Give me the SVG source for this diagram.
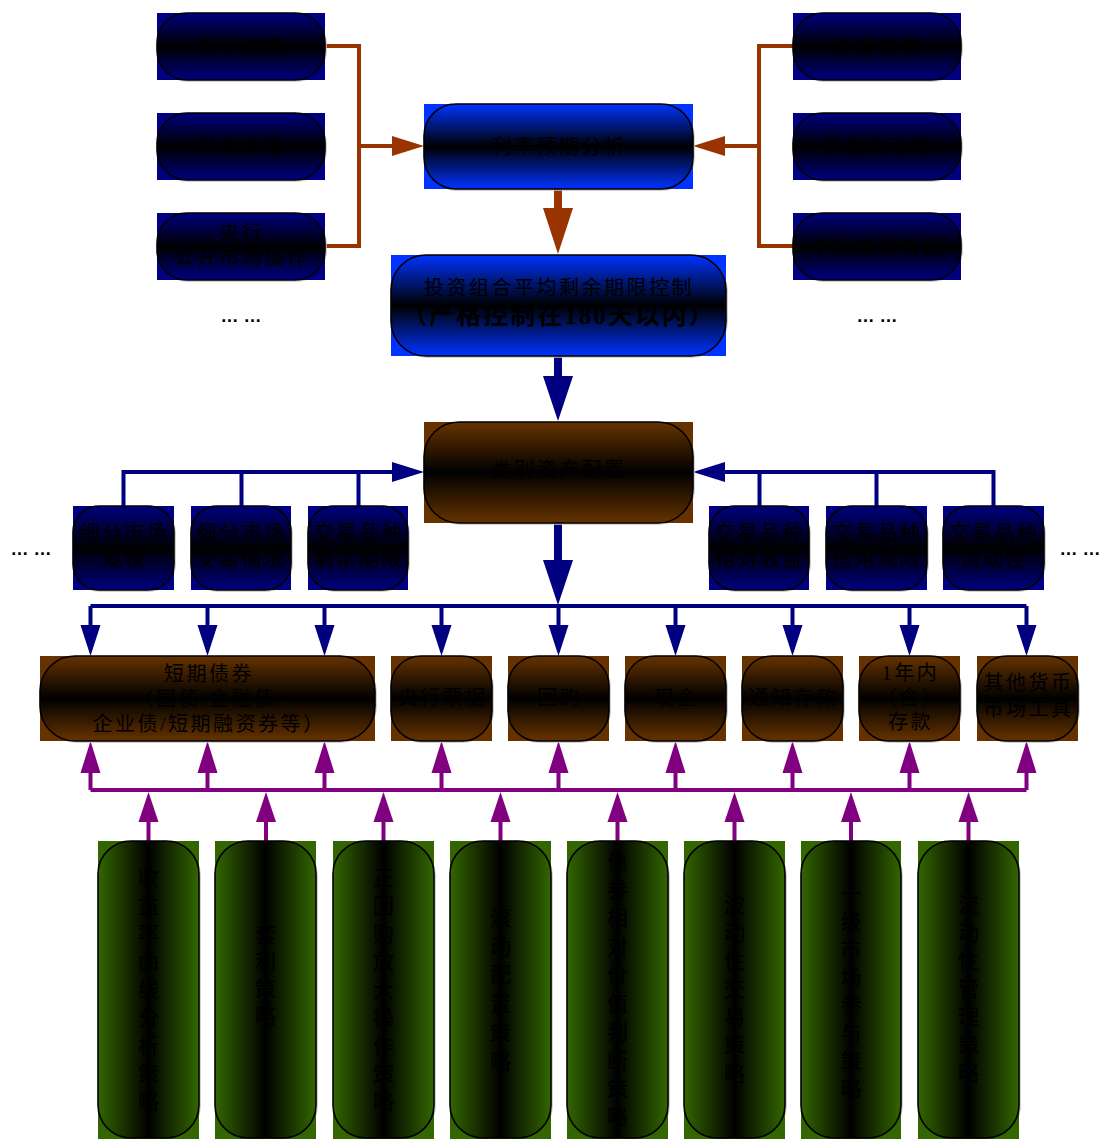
<svg xmlns="http://www.w3.org/2000/svg" width="1103" height="1139" viewBox="0 0 1103 1139">
<style>
.t{font-family:"Liberation Serif","Noto Sans CJK SC",serif;font-size:20px;letter-spacing:2.5px;fill:#000;text-anchor:middle;dominant-baseline:central}
.v{font-family:"Liberation Serif","Noto Sans CJK SC",serif;font-size:21px;fill:#000;text-anchor:middle;dominant-baseline:central}
.b{font-size:25px;font-weight:bold;letter-spacing:2px}
.dots{font-family:"Liberation Sans",sans-serif;font-size:18px;font-weight:bold;fill:#000;text-anchor:middle}
.sh{fill:none;stroke:#c4c4c4;stroke-width:1.5}
.ol{stroke:#000;stroke-width:1.6}
.nv{fill:#000080}
.br{fill:#0033ff}
.bn{fill:#663300}
.gr{fill:#336600}
.lb{fill:none;stroke:#993300;stroke-width:4}
.ln{fill:none;stroke:#000080;stroke-width:4}
.lp{fill:none;stroke:#800080;stroke-width:4}
.sb{fill:none;stroke:#993300;stroke-width:8;stroke-linecap:round}
.sn{fill:none;stroke:#000080;stroke-width:8;stroke-linecap:round}
</style>
<defs>
<linearGradient id="gNv" x1="0" y1="0" x2="0" y2="1"><stop offset="0" stop-color="#000080"/><stop offset="0.5" stop-color="#000"/><stop offset="1" stop-color="#000080"/></linearGradient>
<linearGradient id="gBr" x1="0" y1="0" x2="0" y2="1"><stop offset="0" stop-color="#0033ff"/><stop offset="0.5" stop-color="#000"/><stop offset="1" stop-color="#0033ff"/></linearGradient>
<linearGradient id="gBn" x1="0" y1="0" x2="0" y2="1"><stop offset="0" stop-color="#663300"/><stop offset="0.5" stop-color="#000"/><stop offset="1" stop-color="#663300"/></linearGradient>
<linearGradient id="gGr" x1="0" y1="0" x2="1" y2="0"><stop offset="0" stop-color="#336600"/><stop offset="0.5" stop-color="#000"/><stop offset="1" stop-color="#336600"/></linearGradient>
</defs>

<g id="connectors">
<path class="lb" d="M325,46 H359 V246 H325 M359,146 H394"/>
<polygon fill="#993300" points="392,136 424,146 392,156"/>
<path class="lb" d="M793,46 H759 V246 H793 M759,146 H723"/>
<polygon fill="#993300" points="725,136 693,146 725,156"/>
<path class="sb" d="M558,189 V212"/>
<polygon fill="#993300" points="543,208 573,208 558,254"/>
<path class="sn" d="M558,356 V380"/>
<polygon fill="#000080" points="543,376 573,376 558,421"/>
<path class="ln" d="M123.5,506 V472 H394 M241.5,506 V472 M358.5,506 V472"/>
<polygon fill="#000080" points="392,462 424,472 392,482"/>
<path class="ln" d="M993.5,506 V472 H723 M876.5,506 V472 M759.5,506 V472"/>
<polygon fill="#000080" points="725,462 693,472 725,482"/>
<path class="sn" d="M558,523 V564"/>
<polygon fill="#000080" points="543,560 573,560 558,605"/>
<path class="ln" d="M90.5,606 H1026.5 M90.5,606 V628 M207.5,606 V628 M324.5,606 V628 M441.5,606 V628 M558.5,606 V628 M675.5,606 V628 M792.5,606 V628 M909.5,606 V628 M1026.5,606 V628"/>
<g fill="#000080">
<polygon points="80.5,625 100.5,625 90.5,656"/>
<polygon points="197.5,625 217.5,625 207.5,656"/>
<polygon points="314.5,625 334.5,625 324.5,656"/>
<polygon points="431.5,625 451.5,625 441.5,656"/>
<polygon points="548.5,625 568.5,625 558.5,656"/>
<polygon points="665.5,625 685.5,625 675.5,656"/>
<polygon points="782.5,625 802.5,625 792.5,656"/>
<polygon points="899.5,625 919.5,625 909.5,656"/>
<polygon points="1016.5,625 1036.5,625 1026.5,656"/>
</g>
<path class="lp" d="M90.5,790 H1026.5 M90.5,790 V770 M207.5,790 V770 M324.5,790 V770 M441.5,790 V770 M558.5,790 V770 M675.5,790 V770 M792.5,790 V770 M909.5,790 V770 M1026.5,790 V770"/>
<g fill="#800080">
<polygon points="80.5,773 100.5,773 90.5,741"/>
<polygon points="197.5,773 217.5,773 207.5,741"/>
<polygon points="314.5,773 334.5,773 324.5,741"/>
<polygon points="431.5,773 451.5,773 441.5,741"/>
<polygon points="548.5,773 568.5,773 558.5,741"/>
<polygon points="665.5,773 685.5,773 675.5,741"/>
<polygon points="782.5,773 802.5,773 792.5,741"/>
<polygon points="899.5,773 919.5,773 909.5,741"/>
<polygon points="1016.5,773 1036.5,773 1026.5,741"/>
</g>
<path class="lp" d="M148.5,841 V818 M266,841 V818 M383.5,841 V818 M500.5,841 V818 M617.5,841 V818 M734.5,841 V818 M851,841 V818 M968.5,841 V818" stroke-linecap="round"/>
<g fill="#800080">
<polygon points="138.5,822 158.5,822 148.5,792"/>
<polygon points="256,822 276,822 266,792"/>
<polygon points="373.5,822 393.5,822 383.5,792"/>
<polygon points="490.5,822 510.5,822 500.5,792"/>
<polygon points="607.5,822 627.5,822 617.5,792"/>
<polygon points="724.5,822 744.5,822 734.5,792"/>
<polygon points="841,822 861,822 851,792"/>
<polygon points="958.5,822 978.5,822 968.5,792"/>
</g>
</g>

<g id="n-huobi"><rect class="sh" x="158" y="14" width="168" height="67" rx="30"/><rect class="nv" x="157" y="13" width="168" height="67"/><rect class="ol" fill="url(#gNv)" x="157" y="13" width="168" height="67" rx="30"/><text class="t" x="242" y="46.5">货币政策</text></g>
<g id="n-caizheng"><rect class="sh" x="158" y="114" width="168" height="67" rx="30"/><rect class="nv" x="157" y="113" width="168" height="67"/><rect class="ol" fill="url(#gNv)" x="157" y="113" width="168" height="67" rx="30"/><text class="t" x="242" y="146.5">财政政策</text></g>
<g id="n-yanghang"><rect class="sh" x="158" y="214" width="168" height="67" rx="30"/><rect class="nv" x="157" y="213" width="168" height="67"/><rect class="ol" fill="url(#gNv)" x="157" y="213" width="168" height="67" rx="30"/><text class="t" x="242" y="233">央行</text><text class="t" x="242" y="258">公开市场操作</text></g>
<text class="dots" x="241" y="322">… …</text>

<g id="n-gongqiu"><rect class="sh" x="794" y="14" width="168" height="67" rx="30"/><rect class="nv" x="793" y="13" width="168" height="67"/><rect class="ol" fill="url(#gNv)" x="793" y="13" width="168" height="67" rx="30"/><text class="t" x="878" y="46.5">资金供求</text></g>
<g id="n-liudong"><rect class="sh" x="794" y="114" width="168" height="67" rx="30"/><rect class="nv" x="793" y="113" width="168" height="67"/><rect class="ol" fill="url(#gNv)" x="793" y="113" width="168" height="67" rx="30"/><text class="t" x="878" y="146.5">资金流动性</text></g>
<g id="n-chengyuan"><rect class="sh" x="794" y="214" width="168" height="67" rx="30"/><rect class="nv" x="793" y="213" width="168" height="67"/><rect class="ol" fill="url(#gNv)" x="793" y="213" width="168" height="67" rx="30"/><text class="t" x="878" y="246.5">市场成员特征</text></g>
<text class="dots" x="877" y="322">… …</text>

<g id="n-lilv"><rect class="sh" x="425" y="105" width="269" height="85" rx="32"/><rect class="br" x="424" y="104" width="269" height="85"/><rect class="ol" fill="url(#gBr)" x="424" y="104" width="269" height="85" rx="32"/><text class="t" x="559" y="147">利率预期分析</text></g>
<g id="n-qixian"><rect class="sh" x="392" y="256" width="335" height="101" rx="35"/><rect class="br" x="391" y="255" width="335" height="101"/><rect class="ol" fill="url(#gBr)" x="391" y="255" width="335" height="101" rx="35"/><text class="t" x="559" y="288">投资组合平均剩余期限控制</text><text class="t b" x="559" y="315">（严格控制在180天以内）</text></g>
<g id="n-leibie"><rect class="sh" x="425" y="423" width="269" height="101" rx="35"/><rect class="bn" x="424" y="422" width="269" height="101"/><rect class="ol" fill="url(#gBn)" x="424" y="422" width="269" height="101" rx="35"/><text class="t" x="559" y="470">类别资产配置</text></g>

<text class="dots" x="31" y="555">… …</text>
<g id="n-s1"><rect class="sh" x="74" y="507" width="101" height="84" rx="26"/><rect class="nv" x="73" y="506" width="101" height="84"/><rect class="ol" fill="url(#gNv)" x="73" y="506" width="101" height="84" rx="26"/><text class="t" x="124.5" y="533">细分市场</text><text class="t" x="124.5" y="560">规模</text></g>
<g id="n-s2"><rect class="sh" x="192" y="507" width="100" height="84" rx="26"/><rect class="nv" x="191" y="506" width="100" height="84"/><rect class="ol" fill="url(#gNv)" x="191" y="506" width="100" height="84" rx="26"/><text class="t" x="242" y="533">细分市场</text><text class="t" x="242" y="560">交易情况</text></g>
<g id="n-s3"><rect class="sh" x="309" y="507" width="100" height="84" rx="26"/><rect class="nv" x="308" y="506" width="100" height="84"/><rect class="ol" fill="url(#gNv)" x="308" y="506" width="100" height="84" rx="26"/><text class="t" x="359" y="533">交易品种</text><text class="t" x="359" y="560">剩余期限</text></g>
<g id="n-s4"><rect class="sh" x="710" y="507" width="100" height="84" rx="26"/><rect class="nv" x="709" y="506" width="100" height="84"/><rect class="ol" fill="url(#gNv)" x="709" y="506" width="100" height="84" rx="26"/><text class="t" x="760" y="533">交易品种</text><text class="t" x="760" y="560">相对收益</text></g>
<g id="n-s5"><rect class="sh" x="827" y="507" width="101" height="84" rx="26"/><rect class="nv" x="826" y="506" width="101" height="84"/><rect class="ol" fill="url(#gNv)" x="826" y="506" width="101" height="84" rx="26"/><text class="t" x="877.5" y="533">交易品种</text><text class="t" x="877.5" y="560">信用风险</text></g>
<g id="n-s6"><rect class="sh" x="944" y="507" width="101" height="84" rx="26"/><rect class="nv" x="943" y="506" width="101" height="84"/><rect class="ol" fill="url(#gNv)" x="943" y="506" width="101" height="84" rx="26"/><text class="t" x="994.5" y="533">交易品种</text><text class="t" x="994.5" y="560">流动性</text></g>
<text class="dots" x="1080" y="555">… …</text>

<g id="n-duanqi"><rect class="sh" x="41" y="657" width="335" height="85" rx="35"/><rect class="bn" x="40" y="656" width="335" height="85"/><rect class="ol" fill="url(#gBn)" x="40" y="656" width="335" height="85" rx="35"/><text class="t" x="209" y="674">短期债券</text><text class="t" x="209" y="699">（国债/金融债/</text><text class="t" x="209" y="724">企业债/短期融资券等）</text></g>
<g id="n-piaoju"><rect class="sh" x="392" y="657" width="101" height="85" rx="30"/><rect class="bn" x="391" y="656" width="101" height="85"/><rect class="ol" fill="url(#gBn)" x="391" y="656" width="101" height="85" rx="30"/><text class="t" x="442.5" y="698">央行票据</text></g>
<g id="n-huigou"><rect class="sh" x="509" y="657" width="101" height="85" rx="30"/><rect class="bn" x="508" y="656" width="101" height="85"/><rect class="ol" fill="url(#gBn)" x="508" y="656" width="101" height="85" rx="30"/><text class="t" x="559.5" y="698">回购</text></g>
<g id="n-xianjin"><rect class="sh" x="626" y="657" width="101" height="85" rx="30"/><rect class="bn" x="625" y="656" width="101" height="85"/><rect class="ol" fill="url(#gBn)" x="625" y="656" width="101" height="85" rx="30"/><text class="t" x="676.5" y="698">现金</text></g>
<g id="n-tongzhi"><rect class="sh" x="743" y="657" width="101" height="85" rx="30"/><rect class="bn" x="742" y="656" width="101" height="85"/><rect class="ol" fill="url(#gBn)" x="742" y="656" width="101" height="85" rx="30"/><text class="t" x="793.5" y="698">通知存款</text></g>
<g id="n-cunkuan"><rect class="sh" x="860" y="657" width="101" height="85" rx="30"/><rect class="bn" x="859" y="656" width="101" height="85"/><rect class="ol" fill="url(#gBn)" x="859" y="656" width="101" height="85" rx="30"/><text class="t" x="910.5" y="673">1年内</text><text class="t" x="910.5" y="698">（含）</text><text class="t" x="910.5" y="722">存款</text></g>
<g id="n-qita"><rect class="sh" x="978" y="657" width="101" height="85" rx="30"/><rect class="bn" x="977" y="656" width="101" height="85"/><rect class="ol" fill="url(#gBn)" x="977" y="656" width="101" height="85" rx="30"/><text class="t" x="1028.5" y="683">其他货币</text><text class="t" x="1028.5" y="709">市场工具</text></g>

<g id="n-g1"><rect class="sh" x="99" y="842" width="101" height="297" rx="33"/><rect class="gr" x="98" y="841" width="101" height="298"/><rect class="ol" fill="url(#gGr)" x="98" y="841" width="101" height="297" rx="33"/><text class="v"><tspan x="148.5" y="878">收</tspan><tspan x="148.5" y="906">益</tspan><tspan x="148.5" y="934">率</tspan><tspan x="148.5" y="962">曲</tspan><tspan x="148.5" y="990">线</tspan><tspan x="148.5" y="1018">分</tspan><tspan x="148.5" y="1046">析</tspan><tspan x="148.5" y="1074">策</tspan><tspan x="148.5" y="1102">略</tspan></text></g>
<g id="n-g2"><rect class="sh" x="216" y="842" width="101" height="297" rx="33"/><rect class="gr" x="215" y="841" width="101" height="298"/><rect class="ol" fill="url(#gGr)" x="215" y="841" width="101" height="297" rx="33"/><text class="v"><tspan x="265.5" y="935">套</tspan><tspan x="265.5" y="962">利</tspan><tspan x="265.5" y="989">策</tspan><tspan x="265.5" y="1016">略</tspan></text></g>
<g id="n-g3"><rect class="sh" x="334" y="842" width="101" height="297" rx="33"/><rect class="gr" x="333" y="841" width="101" height="298"/><rect class="ol" fill="url(#gGr)" x="333" y="841" width="101" height="297" rx="33"/><text class="v"><tspan x="383.5" y="878">正</tspan><tspan x="383.5" y="906">回</tspan><tspan x="383.5" y="934">购</tspan><tspan x="383.5" y="962">放</tspan><tspan x="383.5" y="990">大</tspan><tspan x="383.5" y="1018">操</tspan><tspan x="383.5" y="1046">作</tspan><tspan x="383.5" y="1074">策</tspan><tspan x="383.5" y="1102">略</tspan></text></g>
<g id="n-g4"><rect class="sh" x="451" y="842" width="101" height="297" rx="33"/><rect class="gr" x="450" y="841" width="101" height="298"/><rect class="ol" fill="url(#gGr)" x="450" y="841" width="101" height="297" rx="33"/><text class="v"><tspan x="500.5" y="918">滚</tspan><tspan x="500.5" y="947">动</tspan><tspan x="500.5" y="975">配</tspan><tspan x="500.5" y="1004">置</tspan><tspan x="500.5" y="1033">策</tspan><tspan x="500.5" y="1062">略</tspan></text></g>
<g id="n-g5"><rect class="sh" x="568" y="842" width="101" height="297" rx="33"/><rect class="gr" x="567" y="841" width="101" height="298"/><rect class="ol" fill="url(#gGr)" x="567" y="841" width="101" height="297" rx="33"/><text class="v"><tspan x="617.5" y="862">债</tspan><tspan x="617.5" y="890">券</tspan><tspan x="617.5" y="918">相</tspan><tspan x="617.5" y="947">对</tspan><tspan x="617.5" y="975">价</tspan><tspan x="617.5" y="1004">值</tspan><tspan x="617.5" y="1032">判</tspan><tspan x="617.5" y="1061">断</tspan><tspan x="617.5" y="1089">策</tspan><tspan x="617.5" y="1117">略</tspan></text></g>
<g id="n-g6"><rect class="sh" x="685" y="842" width="101" height="297" rx="33"/><rect class="gr" x="684" y="841" width="101" height="298"/><rect class="ol" fill="url(#gGr)" x="684" y="841" width="101" height="297" rx="33"/><text class="v"><tspan x="734.5" y="905">波</tspan><tspan x="734.5" y="933">动</tspan><tspan x="734.5" y="961">性</tspan><tspan x="734.5" y="989">交</tspan><tspan x="734.5" y="1017">易</tspan><tspan x="734.5" y="1045">策</tspan><tspan x="734.5" y="1074">略</tspan></text></g>
<g id="n-g7"><rect class="sh" x="802" y="842" width="100" height="297" rx="33"/><rect class="gr" x="801" y="841" width="100" height="298"/><rect class="ol" fill="url(#gGr)" x="801" y="841" width="100" height="297" rx="33"/><text class="v"><tspan x="851" y="894">一</tspan><tspan x="851" y="922">级</tspan><tspan x="851" y="950">市</tspan><tspan x="851" y="978">场</tspan><tspan x="851" y="1005">参</tspan><tspan x="851" y="1033">与</tspan><tspan x="851" y="1061">策</tspan><tspan x="851" y="1089">略</tspan></text></g>
<g id="n-g8"><rect class="sh" x="919" y="842" width="101" height="297" rx="33"/><rect class="gr" x="918" y="841" width="101" height="298"/><rect class="ol" fill="url(#gGr)" x="918" y="841" width="101" height="297" rx="33"/><text class="v"><tspan x="968.5" y="905">流</tspan><tspan x="968.5" y="933">动</tspan><tspan x="968.5" y="961">性</tspan><tspan x="968.5" y="989">管</tspan><tspan x="968.5" y="1017">理</tspan><tspan x="968.5" y="1045">策</tspan><tspan x="968.5" y="1073">略</tspan></text></g>
</svg>
